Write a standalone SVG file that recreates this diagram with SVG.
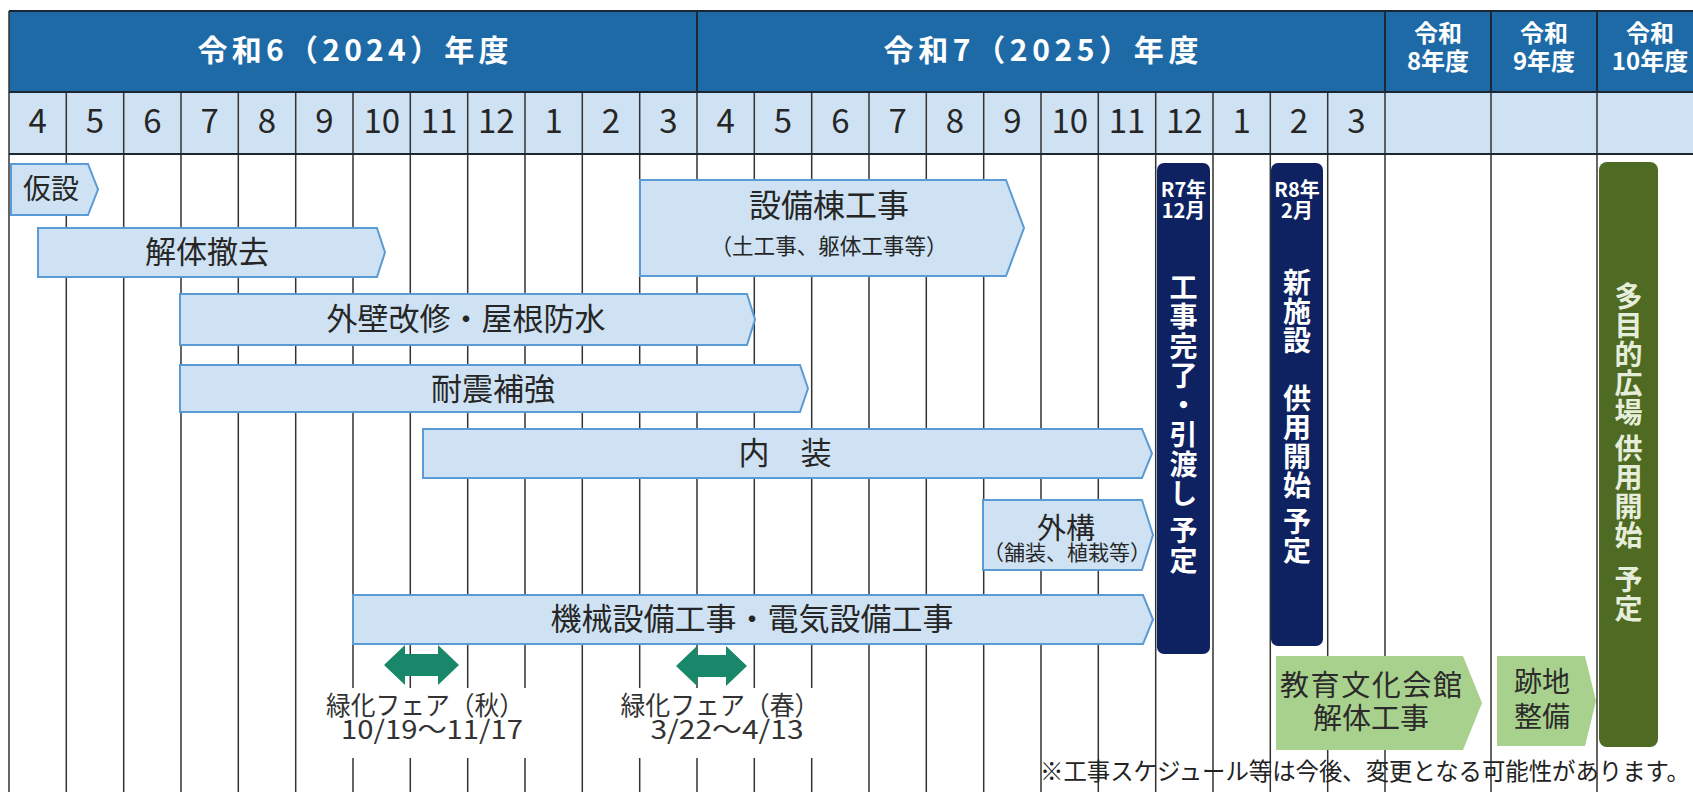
<svg xmlns="http://www.w3.org/2000/svg" width="1693" height="792" viewBox="0 0 1693 792">
<defs>
<style>
text{font-family:"Noto Sans CJK JP","Noto Sans",sans-serif;text-anchor:middle}
.hdr{fill:#1e6aa7}
.mrow{fill:#cfe2f3}
.grid{stroke:#333;stroke-width:1.5;fill:none}
.tline{stroke:#1b2733;stroke-width:2;fill:none}
.bar{fill:#cfe2f3;stroke:#5b9bd5;stroke-width:2}
.lbl{fill:#262626;font-size:31px}
.sub{fill:#262626;font-size:22px}
.yr{fill:#fff;font-weight:bold;font-size:30px}
.yr2{fill:#fff;font-weight:bold;font-size:24px}
.mon{fill:#262626;font-size:33px}
.navy{fill:#0e2262}
.olive{fill:#4f6b23}
.vt{fill:#fff;font-weight:bold;font-size:28px;writing-mode:vertical-rl;text-anchor:start}
.vg{fill:#e6eedb;font-weight:bold;font-size:28px;writing-mode:vertical-rl;text-anchor:start}
.sm{fill:#fff;font-weight:bold;font-size:20px}
.lg{fill:#a9d18e}
.lgt{fill:#2b2b2b;font-size:29px}
.fair{fill:#18876a}
.fl{fill:#333;font-size:26px}
.note{fill:#222;font-size:24px}
</style>
</defs>
<rect width="1693" height="792" fill="#fff"/>

<g id="table-header">
<rect class="hdr" x="9" y="11" width="1684" height="81"/>
<rect class="mrow" x="9" y="92" width="1684" height="62"/>
<text class="yr" x="353" y="61" textLength="311" lengthAdjust="spacing">令和6（2024）年度</text>
<text class="yr" x="1041" y="61" textLength="315" lengthAdjust="spacing">令和7（2025）年度</text>
<text class="yr2" x="1438" y="42">令和</text>
<text class="yr2" x="1438" y="70">8年度</text>
<text class="yr2" x="1544" y="42">令和</text>
<text class="yr2" x="1544" y="70">9年度</text>
<text class="yr2" x="1650" y="42">令和</text>
<text class="yr2" x="1650" y="70">10年度</text>
<g class="mon">
<text x="37.7" y="133">4</text><text x="95" y="133">5</text><text x="152.3" y="133">6</text><text x="209.7" y="133">7</text><text x="267" y="133">8</text><text x="324.3" y="133">9</text><text x="381.7" y="133">10</text><text x="439" y="133">11</text><text x="496.3" y="133">12</text><text x="553.7" y="133">1</text><text x="611" y="133">2</text><text x="668.3" y="133">3</text>
<text x="725.7" y="133">4</text><text x="783" y="133">5</text><text x="840.3" y="133">6</text><text x="897.7" y="133">7</text><text x="955" y="133">8</text><text x="1012.3" y="133">9</text><text x="1069.7" y="133">10</text><text x="1127" y="133">11</text><text x="1184.3" y="133">12</text><text x="1241.7" y="133">1</text><text x="1299" y="133">2</text><text x="1356.3" y="133">3</text>
</g>
</g>

<g id="grid">
<path class="grid" d="M9 11V792M66.3 92V792M123.7 92V792M181 92V792M238.3 92V792M295.7 92V792M353 92V792M410.3 92V792M467.7 92V792M525 92V792M582.3 92V792M639.7 92V792M697 92V792M754.3 92V792M811.7 92V792M869 92V792M926.3 92V792M983.7 92V792M1041 92V792M1098.3 92V792M1155.7 92V792M1213 92V792M1270.3 92V792M1327.7 92V792M1385 92V792M1491 92V792M1597 92V792"/>
<path class="tline" d="M697 11V92M1385 11V92M1491 11V92M1597 11V92M9 11H1693M9 92H1693M9 154H1693"/>
</g>

<g id="fair-label-bg" fill="#fff">
<rect x="328" y="688" width="200" height="70"/>
<rect x="618" y="688" width="206" height="70"/>
</g>

<g id="bar-kasetsu">
<path class="bar" d="M11 164H88L98 189.5L88 215H11Z"/>
<text class="lbl" x="51" y="199" style="font-size:28px">仮設</text>
</g>
<g id="bar-kaitai">
<path class="bar" d="M38 228H377L385 252.5L377 277H38Z"/>
<text class="lbl" x="207" y="263">解体撤去</text>
</g>
<g id="bar-setsubitou">
<path class="bar" d="M640 180H1006L1024 228L1006 276H640Z"/>
<text class="lbl" x="829" y="217" style="font-size:32px">設備棟工事</text>
<text class="sub" x="829" y="254" textLength="237" lengthAdjust="spacingAndGlyphs">（土工事、躯体工事等）</text>
</g>
<g id="bar-gaiheki">
<path class="bar" d="M180 294H747L755 319.5L747 345H180Z"/>
<text class="lbl" x="466" y="330">外壁改修・屋根防水</text>
</g>
<g id="bar-taishin">
<path class="bar" d="M180 365H800L808 388.5L800 412H180Z"/>
<text class="lbl" x="493" y="400">耐震補強</text>
</g>
<g id="bar-naisou">
<path class="bar" d="M423 429H1142L1152 453.5L1142 478H423Z"/>
<text class="lbl" x="785" y="464">内　装</text>
</g>
<g id="bar-gaikou">
<path class="bar" d="M983 500H1142L1153 535L1142 570H983Z"/>
<text class="lbl" x="1066" y="539" style="font-size:29px">外構</text>
<text class="sub" x="1067" y="560" style="font-size:21px" textLength="168" lengthAdjust="spacingAndGlyphs">（舗装、植栽等）</text>
</g>
<g id="bar-kikai">
<path class="bar" d="M353 595H1143L1153 619.5L1143 644H353Z"/>
<text class="lbl" x="752" y="630">機械設備工事・電気設備工事</text>
</g>

<g id="milestone-handover">
<rect class="navy" x="1157" y="163" width="53" height="491" rx="7"/>
<text class="sm" x="1183.5" y="197">R7年</text>
<text class="sm" x="1183.5" y="218">12月</text>
<text class="vt" x="1183.5" y="273" style="letter-spacing:1.5px">工事完了・引渡し 予定</text>
</g>
<g id="milestone-opening">
<rect class="navy" x="1271" y="163" width="52" height="483" rx="7"/>
<text class="sm" x="1297" y="197">R8年</text>
<text class="sm" x="1297" y="218">2月</text>
<text class="vt" x="1297" y="268" style="letter-spacing:1px">新施設　供用開始 予定</text>
</g>
<g id="milestone-plaza">
<rect class="olive" x="1599" y="162" width="59" height="585" rx="8"/>
<text class="vg" x="1628.5" y="282" style="letter-spacing:1px">多目的広場 供用開始&#160;&#160;予定</text>
</g>

<g id="demolition">
<path class="lg" d="M1276 656H1463L1482 703L1463 750H1276Z"/>
<text class="lgt" x="1371" y="696" textLength="182" lengthAdjust="spacing">教育文化会館</text>
<text class="lgt" x="1371" y="729">解体工事</text>
</g>
<g id="site-prep">
<path class="lg" d="M1497 656H1585L1596 701L1585 746H1497Z"/>
<text class="lgt" x="1542" y="692" style="font-size:28px">跡地</text>
<text class="lgt" x="1542" y="727" style="font-size:28px">整備</text>
</g>

<g id="fair-autumn">
<path class="fair" d="M384 665L405 645V654H438V645L459 665L438 685V676H405V685Z"/>
<text class="fl" x="425" y="715" textLength="198" lengthAdjust="spacingAndGlyphs">緑化フェア（秋）</text>
<text class="fl" x="432" y="739" textLength="182" lengthAdjust="spacingAndGlyphs">10/19～11/17</text>
</g>
<g id="fair-spring">
<path class="fair" d="M676 666L697 646V655H726V646L747 666L726 686V677H697V686Z"/>
<text class="fl" x="720" y="715" textLength="199" lengthAdjust="spacingAndGlyphs">緑化フェア（春）</text>
<text class="fl" x="727" y="739" textLength="153" lengthAdjust="spacingAndGlyphs">3/22～4/13</text>
</g>

<g id="note">
<text class="note" x="1365" y="780" textLength="650" lengthAdjust="spacingAndGlyphs">※工事スケジュール等は今後、変更となる可能性があります。</text>
</g>
</svg>
